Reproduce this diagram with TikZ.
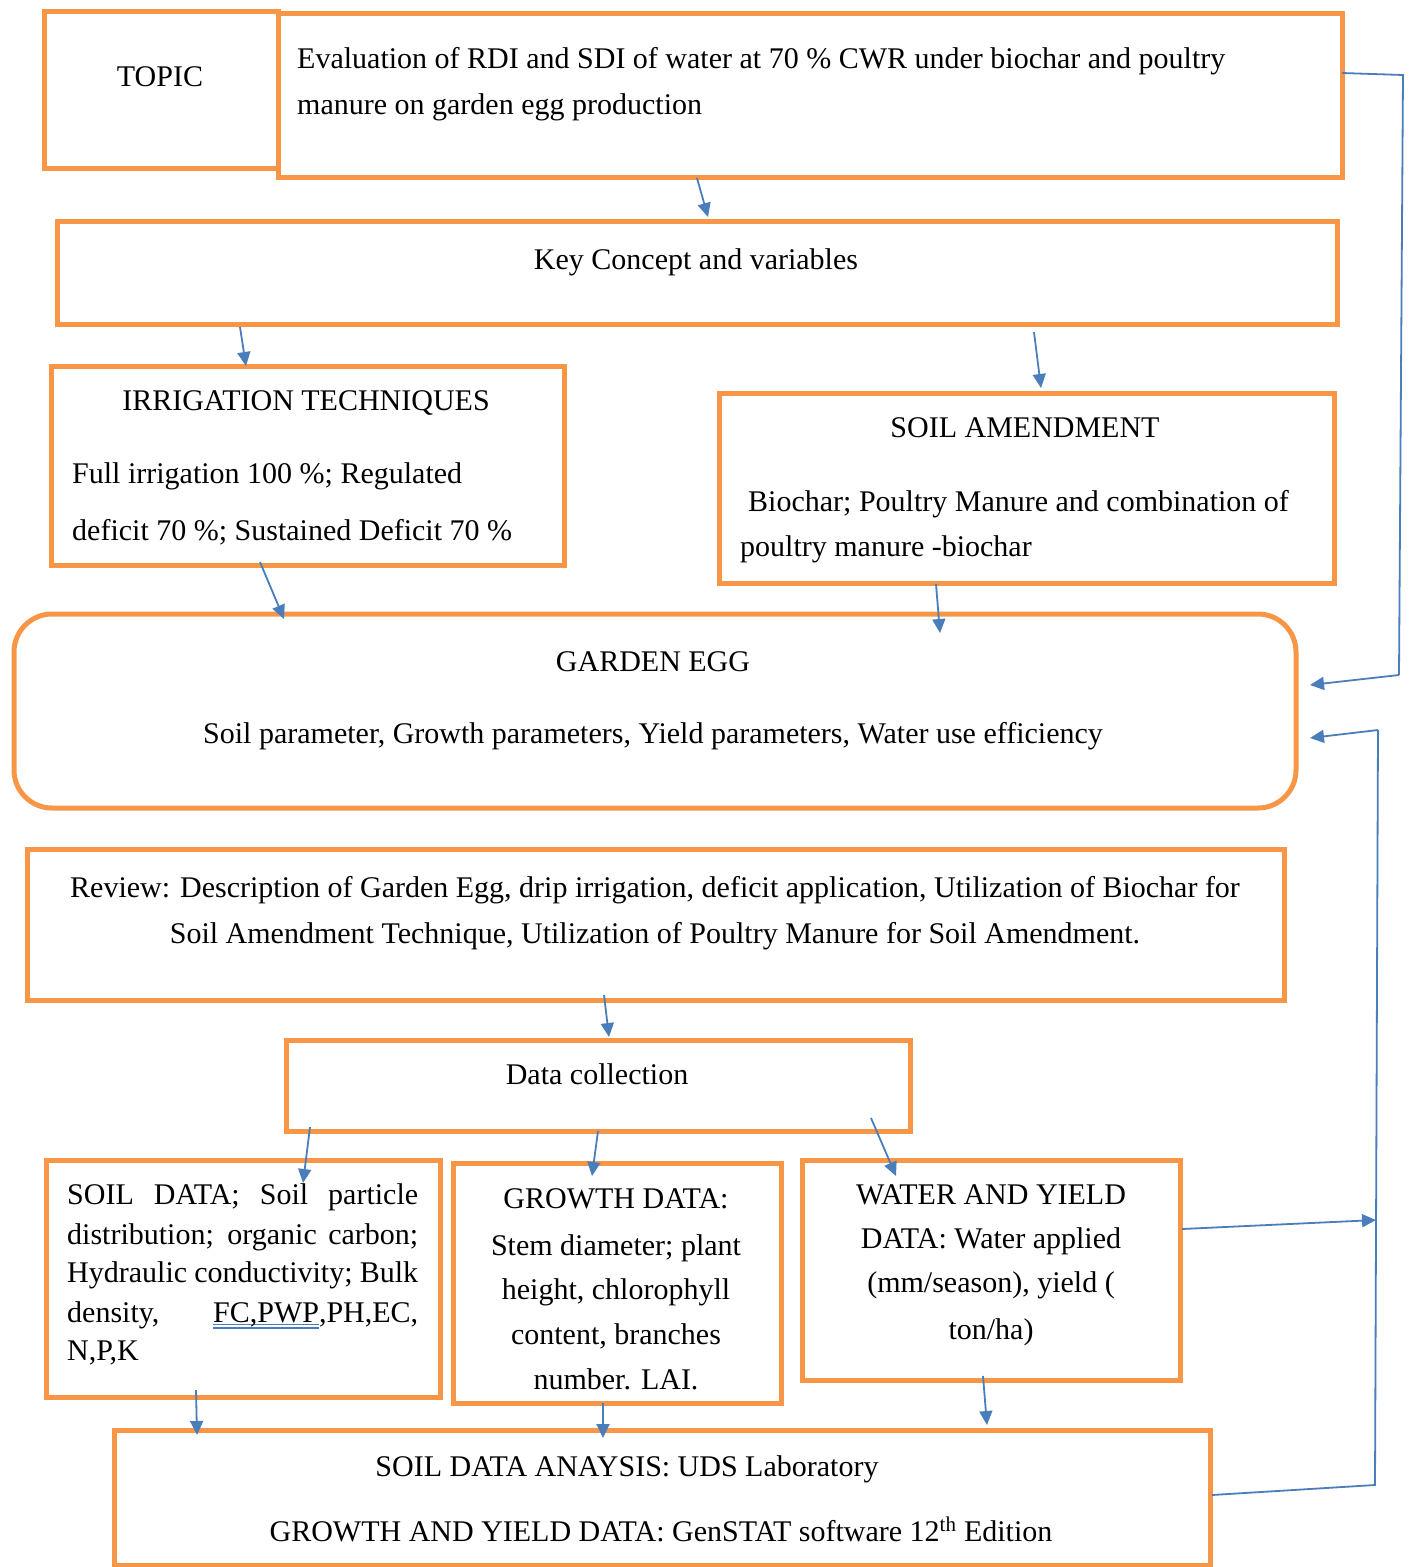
\documentclass[tikz,border=0pt]{standalone}
\usepackage{fontspec}
\setmainfont{Liberation Serif}
\usetikzlibrary{calc,arrows.meta}
\definecolor{boxorange}{HTML}{F79646}
\definecolor{linkblue}{HTML}{4A7EBB}
\newcommand\tf{\fontsize{30}{36}\selectfont}
\newcommand\dul[1]{\setbox0\hbox{#1}\rlap{\textcolor{linkblue}{\rule[-3pt]{\wd0}{1.4pt}}}\rlap{\textcolor{linkblue}{\rule[-6.5pt]{\wd0}{1.4pt}}}\box0}
\tikzset{
  obox/.style={draw=boxorange, line width=5pt, anchor=north west, inner sep=0pt, outer sep=0pt, fill=none},
  txt/.style={font=\tf, inner sep=0pt, text=black},
  arr/.style={draw=linkblue, line width=1.8pt, -{Triangle[length=14pt,width=13pt]}},
  conn/.style={draw=linkblue, line width=1.8pt},
}
\begin{document}
\begin{tikzpicture}[x=1pt,y=-1pt]
\useasboundingbox (0,0) rectangle (1411,1567);
% boxes
\node[obox, minimum width=234pt, minimum height=157pt] (topic) at (44,11) {};
\node[obox, minimum width=1064pt, minimum height=164pt] (eval) at (278,13) {};
\node[obox, minimum width=1280pt, minimum height=103pt] (key) at (57,221) {};
\node[obox, minimum width=513pt, minimum height=199pt] (irr) at (51,366) {};
\node[obox, minimum width=615pt, minimum height=190pt] (soil) at (719,393) {};
\node[obox, rounded corners=38pt, minimum width=1282pt, minimum height=194pt] (garden) at (14,614) {};
\node[obox, minimum width=1257pt, minimum height=151pt] (review) at (27,849) {};
\node[obox, minimum width=624pt, minimum height=91pt] (data) at (286,1040) {};
\node[obox, minimum width=394pt, minimum height=237pt] (sdata) at (46,1160) {};
\node[obox, minimum width=328pt, minimum height=240pt] (gdata) at (453,1163) {};
\node[obox, minimum width=378pt, minimum height=220pt] (wdata) at (802,1160) {};
\node[obox, minimum width=1096pt, minimum height=135pt] (anal) at (114,1430) {};
% texts
\node[txt, anchor=base] (t1) at (160,86) {TOPIC};
\node[txt, anchor=base west] (t2) at (297,68) {Evaluation of RDI and SDI of water at 70 \% CWR under biochar and poultry};
\node[txt, anchor=base west] (t3) at (297,114) {manure on garden egg production};
\node[txt, anchor=base] (t4) at (696,269) {Key Concept and variables};
\node[txt, anchor=base] (t5) at (306,410) {IRRIGATION TECHNIQUES};
\node[txt, anchor=base west] (t6) at (72,483) {Full irrigation 100 \%; Regulated};
\node[txt, anchor=base west] (t7) at (72,540) {deficit 70 \%; Sustained Deficit 70 \%};
\node[txt, anchor=base] (t8) at (1025,437) {SOIL AMENDMENT};
\node[txt, anchor=base west] (t9) at (748,511) {Biochar; Poultry Manure and combination of};
\node[txt, anchor=base west] (t10) at (740,556) {poultry manure -biochar};
\node[txt, anchor=base] (t11) at (653,671) {GARDEN EGG};
\node[txt, anchor=base] (t12) at (653,743) {Soil parameter, Growth parameters, Yield parameters, Water use efficiency};
\node[txt, anchor=base] (t13) at (655,897) {Review: Description of Garden Egg, drip irrigation, deficit application, Utilization of Biochar for};
\node[txt, anchor=base] (t14) at (655,943) {Soil Amendment Technique, Utilization of Poultry Manure for Soil Amendment.};
\node[txt, anchor=base] (t15) at (597,1084) {Data collection};
\node[txt, anchor=base west] (s1) at (67,1204) {\makebox[351pt][s]{SOIL DATA; Soil particle}};
\node[txt, anchor=base west] (s2) at (67,1244) {\makebox[351pt][s]{distribution; organic carbon;}};
\node[txt, anchor=base west] (s3) at (67,1282) {\makebox[351pt][s]{Hydraulic conductivity; Bulk}};
\node[txt, anchor=base west] (s4) at (67,1322) {\makebox[351pt][s]{density, \dul{FC,PWP},PH,EC,}};
\node[txt, anchor=base west] (s5) at (67,1360) {N,P,K};
\node[txt, anchor=base] (g1) at (616,1208) {GROWTH DATA:};
\node[txt, anchor=base] (g2) at (616,1255) {Stem diameter; plant};
\node[txt, anchor=base] (g3) at (616,1299) {height, chlorophyll};
\node[txt, anchor=base] (g4) at (616,1344) {content, branches};
\node[txt, anchor=base] (g5) at (616,1389) {number. LAI.};
\node[txt, anchor=base] (w1) at (991,1204) {WATER AND YIELD};
\node[txt, anchor=base] (w2) at (991,1248) {DATA: Water applied};
\node[txt, anchor=base] (w3) at (991,1292) {(mm/season), yield (};
\node[txt, anchor=base] (w4) at (991,1339) {ton/ha)};
\node[txt, anchor=base] (a1) at (627,1476) {SOIL DATA ANAYSIS: UDS Laboratory};
\node[txt, anchor=base] (a2) at (661,1541) {GROWTH AND YIELD DATA: GenSTAT software 12\textsuperscript{th} Edition};
% connectors
\draw[arr] ($(eval.north west)+(419,165)$) -- ($(key.north west)+(651,-4)$);
\draw[arr] ($(key.north west)+(183,106)$) -- ($(irr.north west)+(195,0)$);
\draw[arr] ($(key.north west)+(977,111)$) -- ($(soil.north west)+(322,-5)$);
\draw[arr] ($(irr.north west)+(209,196)$) -- ($(garden.north west)+(270,5)$);
\draw[arr] ($(soil.north west)+(217,191)$) -- ($(garden.north west)+(926,19)$);
\draw[arr] ($(review.north west)+(577,146)$) -- ($(data.north west)+(323,-3)$);
\draw[arr] ($(data.north west)+(24,87)$) -- ($(sdata.north west)+(257,23)$);
\draw[arr] ($(data.north west)+(312,91)$) -- ($(gdata.north west)+(139,13)$);
\draw[arr] ($(data.north west)+(585,78)$) -- ($(wdata.north west)+(94,16)$);
\draw[arr] ($(sdata.north west)+(150,230)$) -- ($(anal.north west)+(83,5)$);
\draw[arr] ($(gdata.north west)+(150,240)$) -- ($(anal.north west)+(489,8)$);
\draw[arr] ($(wdata.north west)+(181,216)$) -- ($(anal.north west)+(873,-5)$);
% feedback lines
\coordinate (c1) at (1403,75);
\coordinate (c2) at (1399,675);
\coordinate (c3) at (1378,730);
\coordinate (c4) at (1375,1485);
\coordinate (c5) at (1376,1220);
\draw[conn] ($(eval.north west)+(1064,60)$) -- (c1) -- (c2);
\draw[arr] (c2) -- ($(garden.north west)+(1296,71)$);
\draw[conn] ($(anal.north west)+(1098,65)$) -- (c4) -- (c3);
\draw[arr] (c3) -- ($(garden.north west)+(1296,124)$);
\draw[arr] ($(wdata.north west)+(380,69)$) -- (c5);
\end{tikzpicture}
\end{document}
